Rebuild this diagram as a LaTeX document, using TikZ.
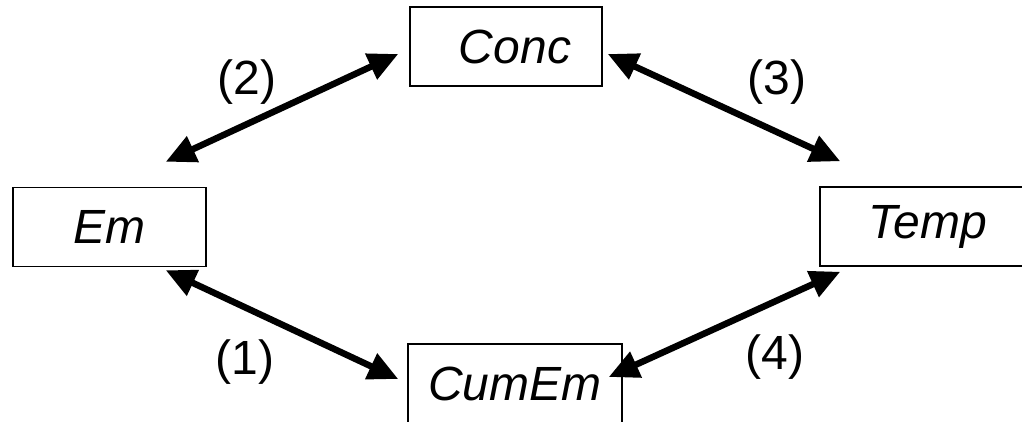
\documentclass[tikz,border=0pt]{standalone}
\usepackage{fontspec}
\setmainfont{Liberation Sans}
\usetikzlibrary{arrows.meta}

\begin{document}
\begin{tikzpicture}[x=1pt, y=-1pt]
      \tikzstyle{var} = [draw, line width=1.5pt, inner sep=0pt, minimum height=79pt,
        font=\fontsize{48}{58}\selectfont\itshape]
      \tikzstyle{num} = [font=\fontsize{48}{58}\selectfont]
      \tikzstyle{link} = [<->, >={Triangle[length=30pt,width=27pt]}, line width=6.5pt]
      \clip (0,0) rectangle (1022,422);
      \node (Conc) [var, minimum width=192pt] at (506,46.5) {\hspace*{18pt}Conc};
      \node (Em) [var, minimum width=193pt] at (109.5,227) {Em};
      \node (Temp) [var, minimum width=216pt] at (928,226.5) {Temp};
      \node (CumEm) [var, minimum width=214pt, minimum height=80pt] at (515,384) {CumEm};
      \node (n1) [num] at (245,362) {(1)};
      \node (n2) [num] at (247,82) {(2)};
      \node (n3) [num] at (777,82) {(3)};
      \node (n4) [num] at (775,357) {(4)};
      \draw[link] ([shift={(-41,3)}]Em.south east) -- ([shift={(-9,-5)}]CumEm.west);
      \draw[link] ([shift={(-41,-25)}]Em.north east) -- ([shift={(-11,7.5)}]Conc.west);
      \draw[link] ([shift={(5,7.5)}]Conc.east) -- ([shift={(21,-25)}]Temp.north west);
      \draw[link] ([shift={(-14,-7)}]CumEm.east) -- ([shift={(21,5)}]Temp.south west);
    \end{tikzpicture}
\end{document}
